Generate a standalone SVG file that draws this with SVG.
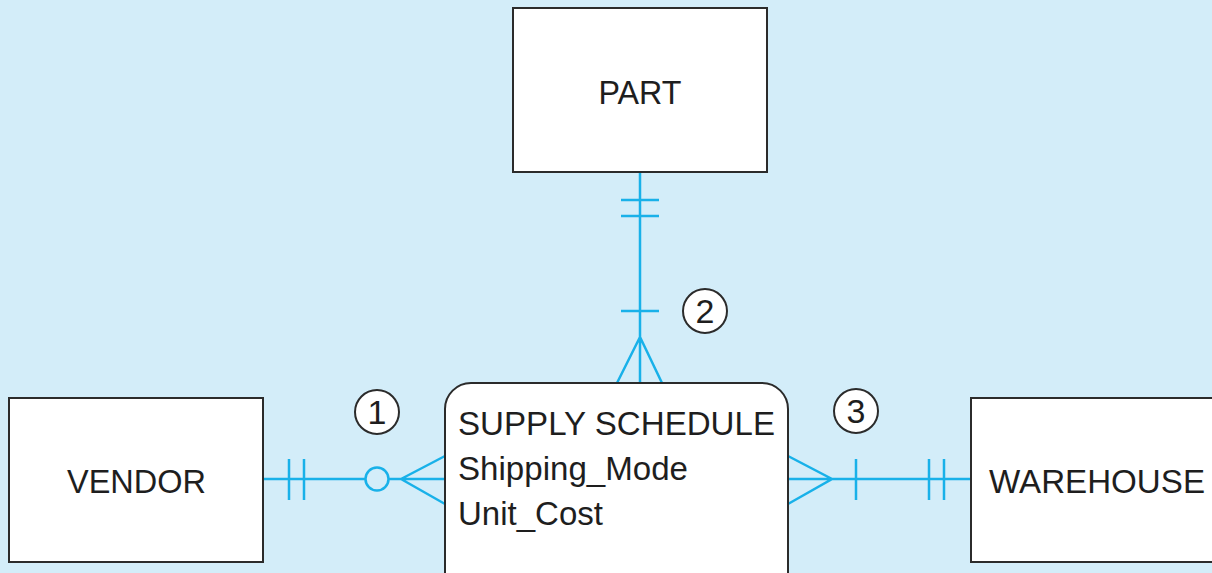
<svg xmlns="http://www.w3.org/2000/svg" width="1212" height="573" viewBox="0 0 1212 573">
<style>
.bg{fill:#d3edf9}
.box{fill:#fff;stroke:#2b2b2b;stroke-width:2}
.t{font-family:"Liberation Sans",Arial,sans-serif;font-size:33px;fill:#1e1e1e}
.c{fill:none;stroke:#18b1e9;stroke-width:2.5}
.lbl{fill:#fff;stroke:#2b2b2b;stroke-width:2}
.n{font-family:"Liberation Sans",Arial,sans-serif;font-size:34px;fill:#1e1e1e;text-anchor:middle}
</style>
<rect class="bg" x="0" y="0" width="1212" height="573"/>
<g id="connectors">
  <!-- PART to SUPPLY SCHEDULE -->
  <path class="c" d="M640 172 V383 M621 200 H659 M621 216 H659 M621 311 H659 M640 337 L617 383 M640 337 L662 383"/>
  <!-- VENDOR to SUPPLY SCHEDULE -->
  <path class="c" d="M263 479 H365 M389 479 H445 M289 459 V500 M304 459 V500 M401 479 L445 456 M401 479 L445 504"/>
  <circle class="c" cx="377" cy="479" r="11.5"/>
  <!-- SUPPLY SCHEDULE to WAREHOUSE -->
  <path class="c" d="M788 479 H971 M788 456 L832 479 L788 504 M856 459 V500 M929 459 V500 M944 459 V500"/>
</g>
<g id="label1">
  <circle class="lbl" cx="377" cy="412" r="22"/>
  <text class="n" x="377" y="424">1</text>
</g>
<g id="label2">
  <circle class="lbl" cx="705" cy="311" r="22"/>
  <text class="n" x="705" y="323">2</text>
</g>
<g id="label3">
  <circle class="lbl" cx="856" cy="411" r="22"/>
  <text class="n" x="856" y="423">3</text>
</g>
<g id="part">
  <rect class="box" x="513" y="8" width="254" height="164"/>
  <text class="t" x="640" y="104" text-anchor="middle" textLength="83" lengthAdjust="spacingAndGlyphs">PART</text>
</g>
<g id="vendor">
  <rect class="box" x="9" y="398" width="254" height="164"/>
  <text class="t" x="67" y="493" textLength="139" lengthAdjust="spacingAndGlyphs">VENDOR</text>
</g>
<g id="warehouse">
  <rect class="box" x="971" y="398" width="260" height="164"/>
  <text class="t" x="989" y="493" textLength="216" lengthAdjust="spacingAndGlyphs">WAREHOUSE</text>
</g>
<g id="supply-schedule">
  <rect class="box" x="445" y="383" width="343" height="220" rx="26" ry="26"/>
  <text class="t" x="458" y="435" textLength="317" lengthAdjust="spacingAndGlyphs">SUPPLY SCHEDULE</text>
  <text class="t" x="458" y="480" textLength="230" lengthAdjust="spacingAndGlyphs">Shipping_Mode</text>
  <text class="t" x="458" y="525" textLength="145" lengthAdjust="spacingAndGlyphs">Unit_Cost</text>
</g>
</svg>
